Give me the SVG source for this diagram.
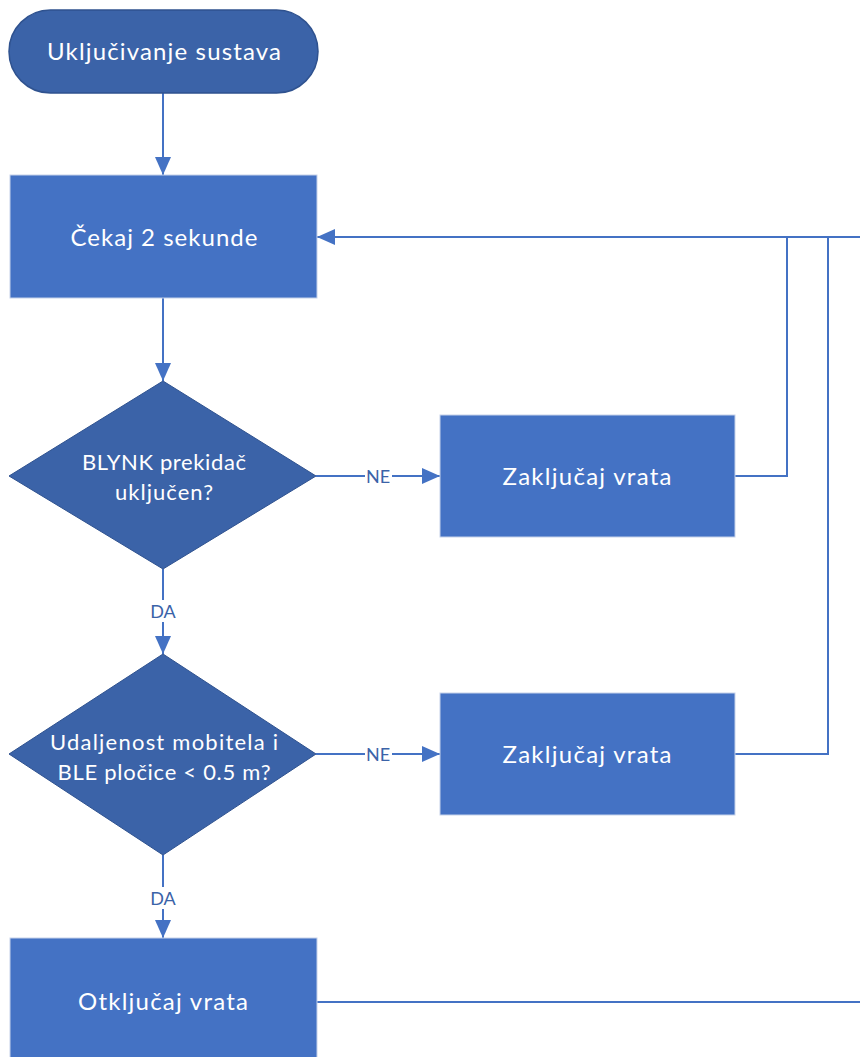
<svg xmlns="http://www.w3.org/2000/svg" width="860" height="1057" viewBox="0 0 860 1057">
<style>
.term{fill:#3b63a8;stroke:#2f528f;stroke-width:1.5}
.proc{fill:#4472c4;stroke:#c5d2ea;stroke-width:1}
.dec{fill:#3b63a8;stroke:#2f528f;stroke-width:1}
.t{font-family:Lato,"Open Sans","Liberation Sans",sans-serif;fill:#ffffff;text-anchor:middle;font-size:24px}
.td{font-family:Lato,"Open Sans","Liberation Sans",sans-serif;fill:#ffffff;text-anchor:middle;font-size:22px}
.ln{fill:none;stroke:#4472c4;stroke-width:2}
.lbl{font-family:Lato,"Open Sans","Liberation Sans",sans-serif;fill:#3b63a8;text-anchor:middle;font-size:18px}
</style>
<defs>
<marker id="a" viewBox="0 0 18 16" refX="18" refY="8" markerWidth="18" markerHeight="16" markerUnits="userSpaceOnUse" orient="auto">
<path d="M0,0 L18,8 L0,16 z" fill="#4472c4"/>
</marker>
</defs>
<rect width="860" height="1057" fill="#ffffff"/>
<g id="connectors">
<path class="ln" d="M163,93 V175" marker-end="url(#a)"/>
<path class="ln" d="M163,298 V381" marker-end="url(#a)"/>
<path class="ln" d="M316,476 H440" marker-end="url(#a)"/>
<path class="ln" d="M163,569 V654" marker-end="url(#a)"/>
<path class="ln" d="M316,754 H440" marker-end="url(#a)"/>
<path class="ln" d="M163,855 V938" marker-end="url(#a)"/>
<path class="ln" d="M735,476 H787 V237"/>
<path class="ln" d="M735,754 H828 V237"/>
<path class="ln" d="M862,237 H317" marker-end="url(#a)"/>
<path class="ln" d="M317,1002 H862"/>
<rect x="365" y="466" width="27" height="20" fill="#ffffff"/>
<text class="lbl" x="378" y="483">NE</text>
<rect x="365" y="744" width="27" height="20" fill="#ffffff"/>
<text class="lbl" x="378" y="761">NE</text>
<rect x="149" y="600" width="29" height="22" fill="#ffffff"/>
<text class="lbl" x="163" y="618">DA</text>
<rect x="149" y="887" width="29" height="22" fill="#ffffff"/>
<text class="lbl" x="163" y="905">DA</text>
</g>
<g id="start">
<rect class="term" x="9" y="10" width="309" height="83" rx="41.5" ry="41.5"/>
<text class="t" x="164" y="60" textLength="234" lengthAdjust="spacing">Uključivanje sustava</text>
</g>
<g id="wait">
<rect class="proc" x="10" y="175" width="307" height="123"/>
<text class="t" x="164" y="246" textLength="187" lengthAdjust="spacing">Čekaj 2 sekunde</text>
</g>
<g id="blynk">
<polygon class="dec" points="163,381 316,476 163,569 9,476"/>
<text class="td" x="164" y="470" textLength="164" lengthAdjust="spacing">BLYNK prekidač</text>
<text class="td" x="164" y="500" textLength="98" lengthAdjust="spacing">uključen?</text>
</g>
<g id="lock1">
<rect class="proc" x="440" y="415" width="295" height="122"/>
<text class="t" x="587" y="485" textLength="169" lengthAdjust="spacing">Zaključaj vrata</text>
</g>
<g id="distance">
<polygon class="dec" points="163,654 316,754 163,855 9,754"/>
<text class="td" x="164" y="750" textLength="228" lengthAdjust="spacing">Udaljenost mobitela i</text>
<text class="td" x="164" y="780" textLength="213" lengthAdjust="spacing">BLE pločice &lt; 0.5 m?</text>
</g>
<g id="lock2">
<rect class="proc" x="440" y="693" width="295" height="122"/>
<text class="t" x="587" y="763" textLength="169" lengthAdjust="spacing">Zaključaj vrata</text>
</g>
<g id="unlock">
<rect class="proc" x="10" y="938" width="307" height="123"/>
<text class="t" x="163" y="1010" textLength="170" lengthAdjust="spacing">Otključaj vrata</text>
</g>
</svg>
